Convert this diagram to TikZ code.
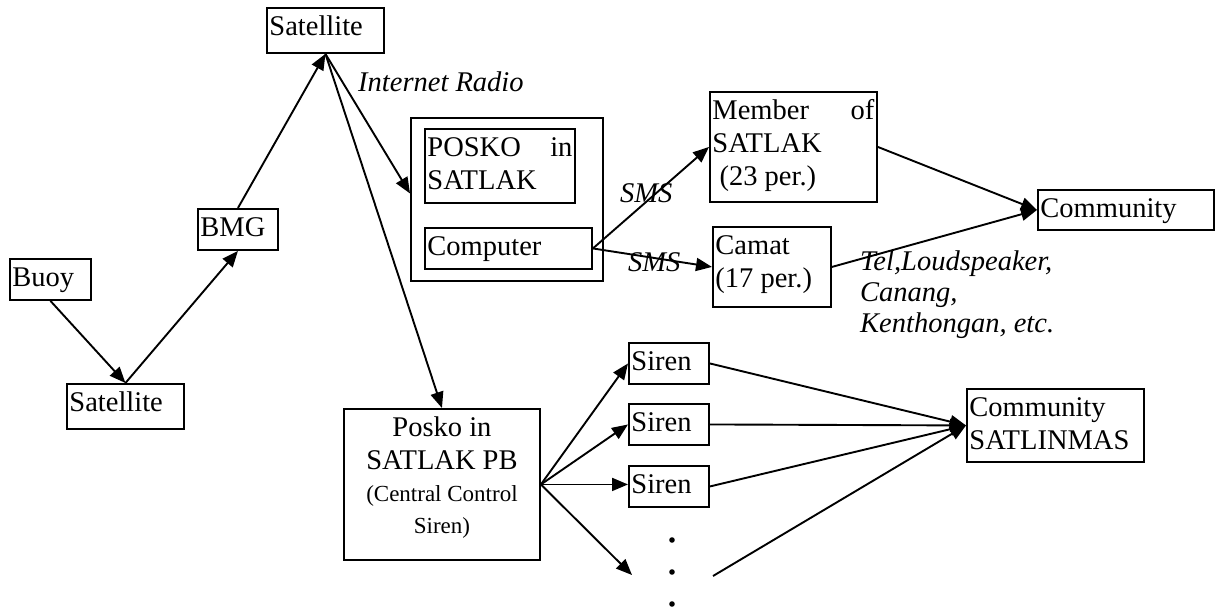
\documentclass[tikz,border=0pt]{standalone}
\usepackage{fontspec}
\setmainfont{Liberation Serif}
\usetikzlibrary{arrows.meta}

% boxed text: width, height, contents (text set from the top-left corner)
\newcommand\bt[3]{\parbox[t][#2pt][t]{#1pt}{\fontsize{28.5}{33}\selectfont
  \leftskip=2.5pt\rightskip=2.5pt\rule{0pt}{27.5pt}\ignorespaces#3}}

\tikzset{
  box/.style={draw, line width=1.9pt, inner sep=0pt, anchor=north west},
  arr/.style={-{Triangle[length=16pt,width=13pt]}, line width=1.9pt},
  lbl/.style={inner sep=0pt, anchor=base west, font=\fontsize{28.5}{31}\selectfont\itshape},
}

\begin{document}
\begin{tikzpicture}[x=1pt,y=-1pt]
\useasboundingbox (0,0) rectangle (1221,610);

% chain from the buoy up to the satellite
\node[box] (buoy) at (9,258)   {\bt{81}{41}{Buoy}};
\node[box] (sat2) at (66,383)  {\bt{117}{45}{Satellite}};
\node[box] (bmg)  at (197,208) {\bt{80}{41}{BMG}};
\node[box] (sat1) at (266,7)   {\bt{117}{45}{Satellite}};

% command post with its computer
\node[box] (outer)  at (410,117) {\parbox[t][163pt][t]{192pt}{\mbox{}}};
\node[box] (posko)  at (424,128) {\bt{150}{74}{POSKO\hfill in\\SATLAK}};
\node[box] (comp)   at (424,227) {\bt{167}{41}{Computer}};

% SMS receivers and community
\node[box] (member) at (709,91)   {\bt{167}{110}{Member\hfill of\\SATLAK\\\hspace*{0.25em}(23 per.)}};
\node[box] (camat)  at (712,226)  {\bt{118}{80}{Camat\\(17 per.)}};
\node[box] (comm)   at (1037,189) {\bt{176}{40}{Community}};

% siren control branch
\node[box] (pb) at (343,408) {\bt{196}{151}{\centering Posko in\\SATLAK PB\par
  \fontsize{23}{32}\selectfont(Central Control\\Siren)}};
\node[box] (siren1) at (628,342) {\bt{80}{41}{Siren}};
\node[box] (siren2) at (628,403) {\bt{80}{41}{Siren}};
\node[box] (siren3) at (628,465) {\bt{80}{41}{Siren}};
\node[box] (commsat) at (966,388) {\bt{177}{73}{Community\\SATLINMAS}};

\coordinate (more)     at (632,575);
\coordinate (morefrom) at (713,576);

% labels
\node[lbl] (ir)   at (358,92)  {Internet Radio};
\node[lbl] (sms1) at (620,202) {SMS};
\node[lbl] (sms2) at (628,271) {SMS};
\node[lbl] (tel)  at (860,270) {\parbox[t]{300pt}{\fontsize{28.5}{31}\selectfont\itshape
  Tel,Loudspeaker,\\Canang,\\Kenthongan, etc.}};

% connectors
\draw[arr] (buoy.south) -- (sat2.north);
\draw[arr] (sat2.north) -- (bmg.south);
\draw[arr] (bmg.north) -- (sat1.south);
\draw[arr] (sat1.south) -- ([yshift=6pt]outer.west);
\draw[arr] (sat1.south) -- (pb.north);
\draw[arr] (comp.east) -- (member.west);
\draw[arr] (comp.east) -- (camat.west);
\draw[arr] (member.east) -- (comm.west);
\draw[arr] (camat.east) -- (comm.west);
\draw[arr] (pb.east) -- (siren1.west);
\draw[arr] (pb.east) -- (siren2.west);
\draw[arr] (pb.east) -- ([yshift=2pt]siren3.west);
\draw[arr] (pb.east) -- (more);
\draw[arr] (siren1.east) -- (commsat.west);
\draw[arr] (siren2.east) -- (commsat.west);
\draw[arr] (siren3.east) -- (commsat.west);
\draw[arr] (morefrom) -- (commsat.west);

% dots for further sirens
\fill (672,540) circle (2.8);
\fill (672,572) circle (2.8);
\fill (672,604) circle (2.8);
\end{tikzpicture}
\end{document}
